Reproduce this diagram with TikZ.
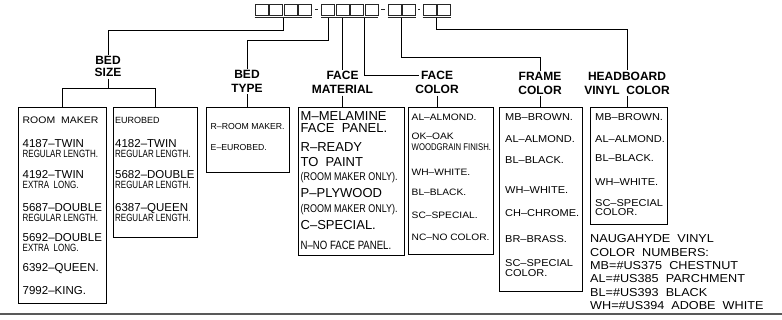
\documentclass[tikz,border=0pt]{standalone}
\usepackage{fontspec}
\setmainfont{Liberation Sans}
\newfontfamily\fwide[FakeStretch=1.1]{Liberation Sans}
\newfontfamily\fcond[FakeStretch=0.76]{Liberation Sans}
\newfontfamily\fcondb[FakeStretch=0.8]{Liberation Sans}
\usetikzlibrary{calc}
\newcommand{\fsz}[1]{\fontsize{#1}{#1}\selectfont}
\newcommand{\dsh}{\textendash}
\tikzset{
  sq/.style={draw=black!85, line width=0.9pt, minimum width=13pt, minimum height=11pt, inner sep=0pt},
  ln/.style={draw=black, line width=0.9pt},
  ul/.style={draw=black!85, line width=0.9pt},
  box/.style={draw=black, line width=0.9pt, anchor=north west, inner sep=0pt},
  lbl/.style={anchor=base, inner sep=1.5pt, font={\bfseries\fsz{12}}},
  tl/.style={anchor=base west, inner sep=0pt},
  tA/.style={tl, font={\fwide\fsz{9.5}}},
  tAe/.style={tl, font={\fsz{9}}},
  tB/.style={tl, font={\fsz{11.5}}},
  tC/.style={tl, font={\fcond\fsz{10.5}}},
  tD/.style={tl, font={\fsz{8.7}}},
  tE/.style={tl, font={\fsz{13}}},
  tF/.style={tl, font={\fcondb\fsz{11.2}}},
  tG/.style={tl, font={\fcondb\fsz{12}}},
  tH/.style={tl, font={\fwide\fsz{9.3}}},
  tW/.style={tl, font={\fcondb\fsz{9.7}}},
  tI/.style={tl, font={\fwide\fsz{10}}},
  tJ/.style={tl, font={\fwide\fsz{11.5}}},
}
\begin{document}
\begin{tikzpicture}[x=1pt,y=-1pt]
\useasboundingbox (0,0) rectangle (782,320);
% code squares
\node[sq] (s1a) at (261.5,9.5) {};
\node[sq] (s1b) at (276,9.5) {};
\node[sq] (s1c) at (290.5,9.5) {};
\node[sq] (s1d) at (305,9.5) {};
\node[sq] (s2a) at (328,9.5) {};
\node[sq] (s2b) at (342.5,9.5) {};
\node[sq] (s2c) at (357,9.5) {};
\node[sq] (s2d) at (371.5,9.5) {};
\node[sq] (s3a) at (394.5,9.5) {};
\node[sq] (s3b) at (409,9.5) {};
\node[sq] (s4a) at (429.5,9.5) {};
\node[sq] (s4b) at (444,9.5) {};
% underlines
\draw[ul] ($(s1a.south west)+(0,2.5)$) -- ($(s1d.south east)+(0,2.5)$);
\draw[ul] ($(s2a.south west)+(0,2.5)$) -- ($(s2d.south east)+(0,2.5)$);
\draw[ul] ($(s3a.south west)+(0,2.5)$) -- ($(s3b.south east)+(0,2.5)$);
\draw[ul] ($(s4a.south west)+(0,2.5)$) -- ($(s4b.south east)+(0,2.5)$);
% dashes
\draw[ul] ($(s1d.east)+(3,0)$) -- ($(s2a.west)+(-3,0)$);
\draw[ul] ($(s2d.east)+(3,0)$) -- ($(s3a.west)+(-3,0)$);
\draw[ul] ($(s3b.east)+(2.5,0)$) -- ($(s4a.west)+(-2.5,0)$);
% stem starts
\coordinate (k1) at ($(s1b.south)!0.5!(s1c.south)+(0,2.5)$);
\coordinate (k2) at ($(s2a.south)+(0,2.5)$);
\coordinate (k3) at ($(s2b.south)+(0,2.5)$);
\coordinate (k4) at ($(s2c.south)!0.5!(s2d.south)+(0,2.5)$);
\coordinate (k5) at ($(s3a.south)!0.5!(s3b.south)+(0,2.5)$);
\coordinate (k6) at ($(s4a.south)!0.5!(s4b.south)+(0,2.5)$);
% labels
\node[lbl] (bsz1) at (108,65) {BED};
\node[lbl] (bsz2) at (108,76.7) {SIZE};
\node[lbl] (bt1) at (247,78.5) {BED};
\node[lbl] (bt2) at (247,92.5) {TYPE};
\node[lbl] (fm1) at (342.5,80) {FACE};
\node[lbl] (fm2) at (342.5,94) {MATERIAL};
\node[lbl] (fc1) at (437,80) {FACE};
\node[lbl] (fc2) at (437,94) {COLOR};
\node[lbl] (fr1) at (540,80.5) {FRAME};
\node[lbl] (fr2) at (540,94.5) {COLOR};
\node[lbl] (hb1) at (627,80.5) {HEADBOARD};
\node[lbl] (hb2) at (627,94.5) {VINYL\ \ COLOR};
% boxes
\node[box, minimum width=88pt, minimum height=196.3pt] (rm) at (18,107) {};
\node[box, minimum width=84pt, minimum height=129.7pt] (eb) at (113,107) {};
\node[box, minimum width=83pt, minimum height=65pt] (bt) at (206,107) {};
\node[box, minimum width=106pt, minimum height=148pt] (fm) at (298,107) {};
\node[box, minimum width=85pt, minimum height=147pt] (fcb) at (408,107) {};
\node[box, minimum width=83pt, minimum height=184.5pt] (frb) at (499,107) {};
\node[box, minimum width=77pt, minimum height=117pt] (hbb) at (590,107) {};
% connectors from code
\draw[ln] (k1) -- ++(0,12.5) -| (bsz1.north);
\draw[ln] (k2) -- ++(0,22.5) -| (bt1.north);
\draw[ln] (k3) -- (k3 |- fm1.north);
\draw[ln] (k4) |- (fc1.west);
\draw[ln] (k5) -- ++(0,40) -| (fr1.north);
\draw[ln] (k6) -- ++(0,12) -| (hb1.north);
% connectors to boxes
\draw[ln] (bsz2.south) -- ++(0,10) coordinate (bsj);
\draw[ln] (rm.north) |- (bsj) -| (eb.north);
\draw[ln] (bt2.south) -- (bt2.south |- bt.north);
\draw[ln] (fm2.south) -- (fm2.south |- fm.north);
\draw[ln] (fc2.south) -- (fc2.south |- fcb.north);
\draw[ln] (fr2.south) -- (fr2.south |- frb.north);
\draw[ln] (hb2.south) -- (hb2.south |- hbb.north);
% room maker box
\node[tA] (rm1) at (22.5,124) {ROOM\hspace{6pt}MAKER};
\node[tB] (rm2) at (22.5,148) {4187\dsh TWIN};
\node[tC] (rm3) at (22.5,158) {REGULAR LENGTH.};
\node[tB] (rm4) at (22.5,179) {4192\dsh TWIN};
\node[tC] (rm5) at (22.5,189) {EXTRA\ \ LONG.};
\node[tB] (rm6) at (22.5,212) {5687\dsh DOUBLE};
\node[tC] (rm7) at (22.5,222) {REGULAR LENGTH.};
\node[tB] (rm8) at (22.5,241.5) {5692\dsh DOUBLE};
\node[tC] (rm9) at (22.5,251.5) {EXTRA\ \ LONG.};
\node[tB] (rm10) at (22.5,271.5) {6392\dsh QUEEN.};
\node[tB] (rm11) at (22.5,295) {7992\dsh KING.};
% eurobed box
\node[tAe] (eb1) at (115,124) {EUROBED};
\node[tB] (eb2) at (115,148) {4182\dsh TWIN};
\node[tC] (eb3) at (115,158) {REGULAR LENGTH.};
\node[tB] (eb4) at (115,179) {5682\dsh DOUBLE};
\node[tC] (eb5) at (115,189) {REGULAR LENGTH.};
\node[tB] (eb6) at (115,211.7) {6387\dsh QUEEN};
\node[tC] (eb7) at (115,222) {REGULAR LENGTH.};
% bed type box
\node[tD] (bt3) at (210.5,130) {R\dsh ROOM MAKER.};
\node[tD] (bt4) at (210.5,150.7) {E\dsh EUROBED.};
% face material box
\node[tE] (fm3) at (300.5,120.5) {M\dsh MELAMINE};
\node[tE] (fm4) at (300.5,133) {FACE\ \ PANEL.};
\node[tE] (fm5) at (300.5,152) {R\dsh READY};
\node[tE] (fm6) at (300.5,166.5) {TO\ \ PAINT};
\node[tF] (fm7) at (300.5,180.7) {(ROOM MAKER ONLY).};
\node[tE] (fm8) at (300.5,198) {P\dsh PLYWOOD};
\node[tF] (fm9) at (300.5,213) {(ROOM MAKER ONLY).};
\node[tE] (fm10) at (300.5,230) {C\dsh SPECIAL.};
\node[tG] (fm11) at (300.5,249.3) {N\dsh NO FACE PANEL.};
% face color box
\node[tH] (fc3) at (411.5,121) {AL\dsh ALMOND.};
\node[tH] (fc4) at (411.5,140) {OK\dsh OAK};
\node[tW] (fc5) at (411.5,150.5) {WOODGRAIN FINISH.};
\node[tH] (fc6) at (411.5,175.7) {WH\dsh WHITE.};
\node[tH] (fc7) at (411.5,195.7) {BL\dsh BLACK.};
\node[tH] (fc8) at (411.5,218.3) {SC\dsh SPECIAL.};
\node[tH] (fc9) at (411.5,241) {NC\dsh NO COLOR.};
% frame color box
\node[tI] (fr3) at (505,120.7) {MB\dsh BROWN.};
\node[tI] (fr4) at (505,142.7) {AL\dsh ALMOND.};
\node[tI] (fr5) at (505,164) {BL\dsh BLACK.};
\node[tI] (fr6) at (505,194) {WH\dsh WHITE.};
\node[tI] (fr7) at (505,217) {CH\dsh CHROME.};
\node[tI] (fr8) at (505,243) {BR\dsh BRASS.};
\node[tI] (fr9) at (505,267) {SC\dsh SPECIAL};
\node[tI] (fr10) at (505,277) {COLOR.};
% headboard box
\node[tI] (hb3) at (595,120.7) {MB\dsh BROWN.};
\node[tI] (hb4) at (595,142.7) {AL\dsh ALMOND.};
\node[tI] (hb5) at (595,162) {BL\dsh BLACK.};
\node[tI] (hb6) at (595,186) {WH\dsh WHITE.};
\node[tI] (hb7) at (595,206.7) {SC\dsh SPECIAL};
\node[tI] (hb8) at (595,216) {COLOR.};
% naugahyde notes
\node[tJ] (n1) at (590,243) {NAUGAHYDE\ \ VINYL};
\node[tJ] (n2) at (590,256.3) {COLOR\ \ NUMBERS:};
\node[tJ] (n3) at (590,269.6) {MB=\#US375\ \ CHESTNUT};
\node[tJ] (n4) at (590,283) {AL=\#US385\ \ PARCHMENT};
\node[tJ] (n5) at (590,296.3) {BL=\#US393\ \ BLACK};
\node[tJ] (n6) at (590,309.6) {WH=\#US394\ \ ADOBE\ \ WHITE};
% bottom rule
\draw[line width=1.6pt, black!65] (0,314) -- (782,314);
\end{tikzpicture}
\end{document}
